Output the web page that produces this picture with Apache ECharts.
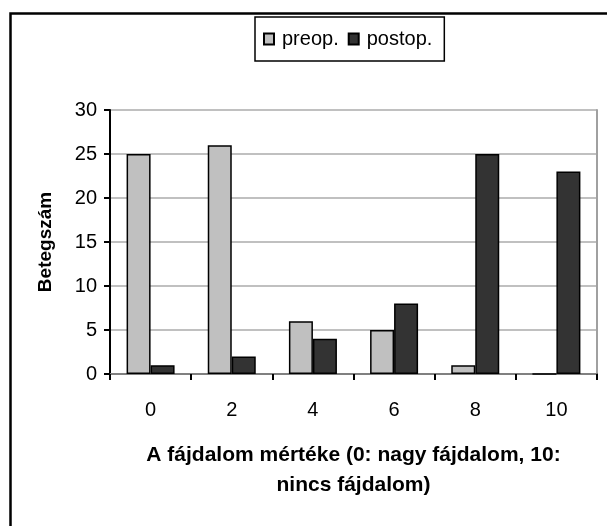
<!DOCTYPE html>
<html>
<head>
<meta charset="utf-8">
<script src="https://cdn.jsdelivr.net/npm/echarts@6/dist/echarts.min.js"></script>
<style>
html,body{margin:0;padding:0;background:#fff;}
#c{width:607px;height:526px;}
</style>
</head>
<body>
<div id="c"></div>
<script>
const categories = ['0', '2', '4', '6', '8', '10'];
const preop = [25, 26, 6, 5, 1, 0];
const postop = [1, 2, 4, 8, 25, 23];
const seriesNames = ['preop.', 'postop.'];
const yTicks = { min: 0, max: 30, interval: 5 };
const xTitle = 'A fájdalom mértéke (0: nagy fájdalom, 10:\nnincs fájdalom)';
const yTitle = 'Betegszám';

const FONT = '"Liberation Sans", Arial, sans-serif';
const chart = echarts.init(document.getElementById('c'), null, { renderer: 'canvas' });

chart.setOption({
  animation: false,
  backgroundColor: '#fff',
  textStyle: { fontFamily: FONT, color: '#000' },
  graphic: [{
    type: 'rect',
    left: 8, top: 11,
    shape: { width: 700, height: 600 },
    style: { fill: 'none', stroke: '#000', lineWidth: 2.5 },
    silent: true
  }],
  legend: {
    data: seriesNames,
    left: 255, top: 17,
    padding: [12, 12, 12, 8],
    itemWidth: 10, itemHeight: 11, itemGap: 9,
    icon: 'rect',
    borderColor: '#000', borderWidth: 1.5,
    textStyle: { fontFamily: FONT, fontSize: 20, color: '#000', padding: [0, 0, 0, 3] }
  },
  grid: { left: 110, right: 10, top: 110, bottom: 152 },
  xAxis: [{
    type: 'category',
    data: categories,
    position: 'bottom',
    axisLine: { lineStyle: { color: '#000', width: 2 } },
    axisTick: { show: true, length: 6, inside: false, lineStyle: { color: '#000', width: 2 } },
    axisLabel: { fontFamily: FONT, fontSize: 20, color: '#000', margin: 26 },
    name: xTitle,
    nameLocation: 'middle',
    nameGap: 66,
    nameTextStyle: { fontFamily: FONT, fontSize: 21, fontWeight: 'bold', color: '#000', lineHeight: 30 }
  }, {
    type: 'category',
    data: categories,
    position: 'top',
    axisLine: { lineStyle: { color: '#808080', width: 2 } },
    axisTick: { show: false },
    axisLabel: { show: false }
  }],
  yAxis: [{
    type: 'value',
    min: yTicks.min, max: yTicks.max, interval: yTicks.interval,
    axisLine: { show: true, lineStyle: { color: '#000', width: 2 } },
    axisTick: { show: true, length: 6, lineStyle: { color: '#000', width: 2 } },
    axisLabel: { fontFamily: FONT, fontSize: 20, color: '#000', margin: 13 },
    splitLine: { show: true, lineStyle: { color: '#c0c0c0', width: 2 } },
    name: yTitle,
    nameLocation: 'middle',
    nameGap: 55,
    nameRotate: 90,
    nameTextStyle: { fontFamily: FONT, fontSize: 19, fontWeight: 'bold', color: '#000' }
  }, {
    type: 'value',
    position: 'right',
    min: yTicks.min, max: yTicks.max, interval: yTicks.interval,
    axisLine: { show: true, lineStyle: { color: '#a0a0a0', width: 2 } },
    axisTick: { show: false },
    axisLabel: { show: false },
    splitLine: { show: false }
  }],
  series: [{
    name: seriesNames[0],
    type: 'bar',
    data: preop,
    barWidth: 24,
    barGap: '0%',
    itemStyle: { color: '#c0c0c0', borderColor: '#000', borderWidth: 1.5 }
  }, {
    name: seriesNames[1],
    type: 'bar',
    data: postop,
    barWidth: 24,
    barGap: '0%',
    itemStyle: { color: '#333333', borderColor: '#000', borderWidth: 1.5 }
  }]
});
</script>
</body>
</html>
